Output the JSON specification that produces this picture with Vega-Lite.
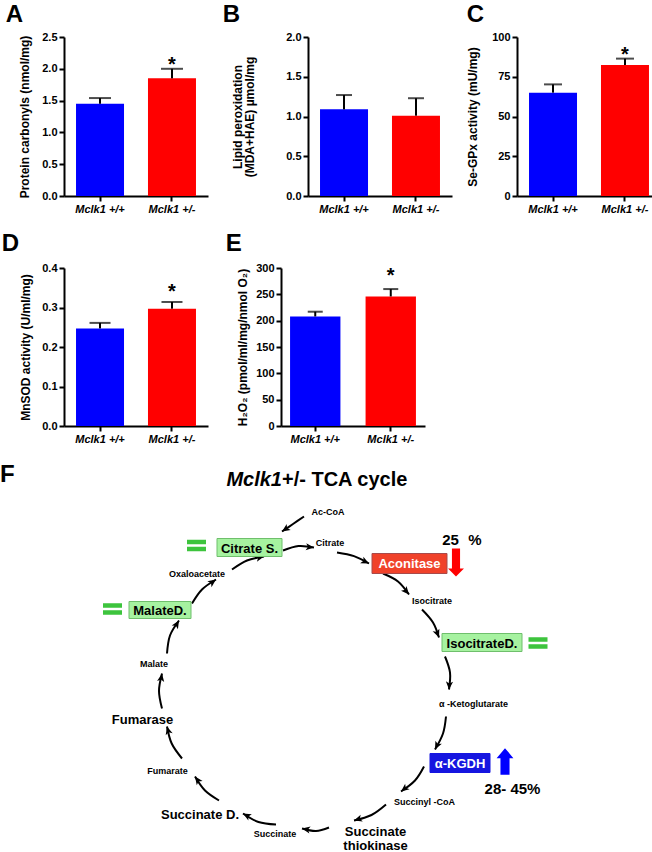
{
  "$schema": "https://vega.github.io/schema/vega-lite/v6.json",
  "background": "white",
  "padding": {"left": 0, "top": 3, "right": 0, "bottom": 0},
  "config": {
    "view": {"stroke": null},
    "font": "Liberation Sans",
    "axis": {"domainColor": "black", "domainWidth": 2, "tickColor": "black", "tickWidth": 2, "tickSize": 5, "labelFont": "Liberation Sans", "labelFontWeight": "bold", "labelFontSize": 11, "labelColor": "black", "labelPadding": 2, "labelOverlap": false, "labelBound": false, "titleFont": "Liberation Sans", "titleFontWeight": "bold", "titleFontSize": 12, "titleColor": "black", "grid": false},
    "title": {"font": "Liberation Sans", "fontSize": 24, "fontWeight": "bold", "anchor": "start", "frame": "bounds", "color": "black", "offset": 6}
  },
  "spacing": 18,
  "align": "none",
  "resolve": {"scale": {"color": "independent", "stroke": "independent"}},
  "vconcat": [
    {
      "hconcat": [
        {
          "title": {"text": "A", "dx": -13, "offset": 4},
          "width": 144, "height": 159,
          "data": {"values": [{"g": "Mclk1 +/+", "v": 1.45, "e": 1.54, "s": ""}, {"g": "Mclk1 +/-", "v": 1.85, "e": 2.0, "s": "*"}]},
          "encoding": {"x": {"field": "g", "type": "nominal", "sort": null, "scale": {"paddingInner": 0.333, "paddingOuter": 0.167}, "axis": {"title": null, "labelAngle": 0, "labelFontStyle": "italic"}}},
          "layer": [
            {"mark": {"type": "bar"}, "encoding": {"y": {"field": "v", "type": "quantitative", "scale": {"domain": [0, 2.5], "nice": false}, "axis": {"values": [0, 0.5, 1, 1.5, 2, 2.5], "format": ".1f", "labelOverlap": false, "title": "Protein carbonyls (nmol/mg)", "titlePadding": 10}}, "color": {"field": "g", "type": "nominal", "sort": null, "scale": {"domain": ["Mclk1 +/+", "Mclk1 +/-"], "range": ["#0000ff", "#ff0000"]}, "legend": null}}},
            {"mark": {"type": "rule", "color": "black", "strokeWidth": 2}, "encoding": {"y": {"field": "v", "type": "quantitative", "axis": {"values": [0, 0.5, 1, 1.5, 2, 2.5], "format": ".1f", "labelOverlap": false, "title": "Protein carbonyls (nmol/mg)", "titlePadding": 10}}, "y2": {"field": "e"}}},
            {"mark": {"type": "tick", "color": "black", "thickness": 2, "size": 22}, "encoding": {"y": {"field": "e", "type": "quantitative", "axis": {"values": [0, 0.5, 1, 1.5, 2, 2.5], "format": ".1f", "labelOverlap": false, "title": "Protein carbonyls (nmol/mg)", "titlePadding": 10}}}},
            {"mark": {"type": "text", "fontSize": 20, "fontWeight": "bold", "baseline": "alphabetic", "dy": 2}, "encoding": {"y": {"field": "e", "type": "quantitative", "axis": {"values": [0, 0.5, 1, 1.5, 2, 2.5], "format": ".1f", "labelOverlap": false, "title": "Protein carbonyls (nmol/mg)", "titlePadding": 10}}, "text": {"field": "s"}}}
          ]
        },
        {
          "title": {"text": "B", "dx": -9, "offset": 4},
          "width": 144, "height": 159,
          "data": {"values": [{"g": "Mclk1 +/+", "v": 1.09, "e": 1.27, "s": ""}, {"g": "Mclk1 +/-", "v": 1.01, "e": 1.23, "s": ""}]},
          "encoding": {"x": {"field": "g", "type": "nominal", "sort": null, "scale": {"paddingInner": 0.333, "paddingOuter": 0.167}, "axis": {"title": null, "labelAngle": 0, "labelFontStyle": "italic"}}},
          "layer": [
            {"mark": {"type": "bar"}, "encoding": {"y": {"field": "v", "type": "quantitative", "scale": {"domain": [0, 2], "nice": false}, "axis": {"values": [0, 0.5, 1, 1.5, 2], "format": ".1f", "labelOverlap": false, "title": ["Lipid peroxidation", "(MDA+HAE)  µmol/mg"], "titlePadding": 29, "titleLineHeight": 12}}, "color": {"field": "g", "type": "nominal", "sort": null, "scale": {"domain": ["Mclk1 +/+", "Mclk1 +/-"], "range": ["#0000ff", "#ff0000"]}, "legend": null}}},
            {"mark": {"type": "rule", "color": "black", "strokeWidth": 2}, "encoding": {"y": {"field": "v", "type": "quantitative", "axis": {"values": [0, 0.5, 1, 1.5, 2], "format": ".1f", "labelOverlap": false, "title": ["Lipid peroxidation", "(MDA+HAE)  µmol/mg"], "titlePadding": 29, "titleLineHeight": 12}}, "y2": {"field": "e"}}},
            {"mark": {"type": "tick", "color": "black", "thickness": 2, "size": 16}, "encoding": {"y": {"field": "e", "type": "quantitative", "axis": {"values": [0, 0.5, 1, 1.5, 2], "format": ".1f", "labelOverlap": false, "title": ["Lipid peroxidation", "(MDA+HAE)  µmol/mg"], "titlePadding": 29, "titleLineHeight": 12}}}}
          ]
        },
        {
          "title": {"text": "C", "dx": 0, "offset": 4},
          "width": 144, "height": 159,
          "data": {"values": [{"g": "Mclk1 +/+", "v": 65.0, "e": 70.2, "s": ""}, {"g": "Mclk1 +/-", "v": 82.4, "e": 86.4, "s": "*"}]},
          "encoding": {"x": {"field": "g", "type": "nominal", "sort": null, "scale": {"paddingInner": 0.333, "paddingOuter": 0.167}, "axis": {"title": null, "labelAngle": 0, "labelFontStyle": "italic"}}},
          "layer": [
            {"mark": {"type": "bar"}, "encoding": {"y": {"field": "v", "type": "quantitative", "scale": {"domain": [0, 100], "nice": false}, "axis": {"values": [0, 25, 50, 75, 100], "labelOverlap": false, "title": "Se-GPx activity (mU/mg)", "titlePadding": 12}}, "color": {"field": "g", "type": "nominal", "sort": null, "scale": {"domain": ["Mclk1 +/+", "Mclk1 +/-"], "range": ["#0000ff", "#ff0000"]}, "legend": null}}},
            {"mark": {"type": "rule", "color": "black", "strokeWidth": 2}, "encoding": {"y": {"field": "v", "type": "quantitative", "axis": {"values": [0, 25, 50, 75, 100], "labelOverlap": false, "title": "Se-GPx activity (mU/mg)", "titlePadding": 12}}, "y2": {"field": "e"}}},
            {"mark": {"type": "tick", "color": "black", "thickness": 2, "size": 18}, "encoding": {"y": {"field": "e", "type": "quantitative", "axis": {"values": [0, 25, 50, 75, 100], "labelOverlap": false, "title": "Se-GPx activity (mU/mg)", "titlePadding": 12}}}},
            {"mark": {"type": "text", "fontSize": 20, "fontWeight": "bold", "baseline": "alphabetic", "dy": 2}, "encoding": {"y": {"field": "e", "type": "quantitative", "axis": {"values": [0, 25, 50, 75, 100], "labelOverlap": false, "title": "Se-GPx activity (mU/mg)", "titlePadding": 12}}, "text": {"field": "s"}}}
          ]
        }
      ],
      "spacing": 14,
      "align": "none",
      "resolve": {"scale": {"color": "independent"}}
    },
    {
      "hconcat": [
        {
          "title": {"text": "D", "dx": -18},
          "width": 144, "height": 158,
          "data": {"values": [{"g": "Mclk1 +/+", "v": 0.247, "e": 0.261, "s": ""}, {"g": "Mclk1 +/-", "v": 0.297, "e": 0.314, "s": "*"}]},
          "encoding": {"x": {"field": "g", "type": "nominal", "sort": null, "scale": {"paddingInner": 0.333, "paddingOuter": 0.167}, "axis": {"title": null, "labelAngle": 0, "labelFontStyle": "italic"}}},
          "layer": [
            {"mark": {"type": "bar"}, "encoding": {"y": {"field": "v", "type": "quantitative", "scale": {"domain": [0, 0.4], "nice": false}, "axis": {"values": [0, 0.1, 0.2, 0.3, 0.4], "format": ".1f", "labelOverlap": false, "title": "MnSOD activity (U/ml/mg)", "titlePadding": 9}}, "color": {"field": "g", "type": "nominal", "sort": null, "scale": {"domain": ["Mclk1 +/+", "Mclk1 +/-"], "range": ["#0000ff", "#ff0000"]}, "legend": null}}},
            {"mark": {"type": "rule", "color": "black", "strokeWidth": 2}, "encoding": {"y": {"field": "v", "type": "quantitative", "axis": {"values": [0, 0.1, 0.2, 0.3, 0.4], "format": ".1f", "labelOverlap": false, "title": "MnSOD activity (U/ml/mg)", "titlePadding": 9}}, "y2": {"field": "e"}}},
            {"mark": {"type": "tick", "color": "black", "thickness": 2, "size": 21}, "encoding": {"y": {"field": "e", "type": "quantitative", "axis": {"values": [0, 0.1, 0.2, 0.3, 0.4], "format": ".1f", "labelOverlap": false, "title": "MnSOD activity (U/ml/mg)", "titlePadding": 9}}}},
            {"mark": {"type": "text", "fontSize": 20, "fontWeight": "bold", "baseline": "alphabetic", "dy": -4}, "encoding": {"y": {"field": "e", "type": "quantitative", "axis": {"values": [0, 0.1, 0.2, 0.3, 0.4], "format": ".1f", "labelOverlap": false, "title": "MnSOD activity (U/ml/mg)", "titlePadding": 9}}, "text": {"field": "s"}}}
          ]
        },
        {
          "title": {"text": "E", "dx": -11},
          "width": 144, "height": 158,
          "data": {"values": [{"g": "Mclk1 +/+", "v": 208, "e": 217, "s": ""}, {"g": "Mclk1 +/-", "v": 246, "e": 260, "s": "*"}]},
          "encoding": {"x": {"field": "g", "type": "nominal", "sort": null, "scale": {"paddingInner": 0.333, "paddingOuter": 0.12}, "axis": {"title": null, "labelAngle": 0, "labelFontStyle": "italic"}}},
          "layer": [
            {"mark": {"type": "bar"}, "encoding": {"y": {"field": "v", "type": "quantitative", "scale": {"domain": [0, 300], "nice": false}, "axis": {"values": [0, 50, 100, 150, 200, 250, 300], "labelOverlap": false, "title": "H₂O₂ (pmol/ml/mg/nmol O₂)", "titlePadding": 6}}, "color": {"field": "g", "type": "nominal", "sort": null, "scale": {"domain": ["Mclk1 +/+", "Mclk1 +/-"], "range": ["#0000ff", "#ff0000"]}, "legend": null}}},
            {"mark": {"type": "rule", "color": "black", "strokeWidth": 2}, "encoding": {"y": {"field": "v", "type": "quantitative", "axis": {"values": [0, 50, 100, 150, 200, 250, 300], "labelOverlap": false, "title": "H₂O₂ (pmol/ml/mg/nmol O₂)", "titlePadding": 6}}, "y2": {"field": "e"}}},
            {"mark": {"type": "tick", "color": "black", "thickness": 2, "size": 15}, "encoding": {"y": {"field": "e", "type": "quantitative", "axis": {"values": [0, 50, 100, 150, 200, 250, 300], "labelOverlap": false, "title": "H₂O₂ (pmol/ml/mg/nmol O₂)", "titlePadding": 6}}}},
            {"mark": {"type": "text", "fontSize": 20, "fontWeight": "bold", "baseline": "alphabetic", "dy": -7}, "encoding": {"y": {"field": "e", "type": "quantitative", "axis": {"values": [0, 50, 100, 150, 200, 250, 300], "labelOverlap": false, "title": "H₂O₂ (pmol/ml/mg/nmol O₂)", "titlePadding": 6}}, "text": {"field": "s"}}}
          ]
        }
      ],
      "spacing": 17,
      "align": "none",
      "resolve": {"scale": {"color": "independent"}}
    },
    {
      "width": 587, "height": 378.5,
      "encoding": {
        "x": {"field": "x", "type": "quantitative", "scale": {"domain": [65, 652], "nice": false, "zero": false}, "axis": null},
        "y": {"field": "y", "type": "quantitative", "scale": {"domain": [473.5, 852], "nice": false, "zero": false, "reverse": true}, "axis": null}
      },
      "layer": [
        {
          "data": {"values": [
            {"id": 1, "o": 0, "x": 305, "y": 515}, {"id": 1, "o": 1, "x": 294, "y": 522.5}, {"id": 1, "o": 2, "x": 283, "y": 530},
            {"id": 2, "o": 0, "x": 284, "y": 549}, {"id": 2, "o": 1, "x": 299.5, "y": 544.5}, {"id": 2, "o": 2, "x": 315, "y": 546},
            {"id": 3, "o": 0, "x": 338, "y": 551}, {"id": 3, "o": 1, "x": 355, "y": 554.6}, {"id": 3, "o": 2, "x": 370, "y": 562},
            {"id": 4, "o": 0, "x": 384, "y": 572}, {"id": 4, "o": 1, "x": 399, "y": 580}, {"id": 4, "o": 2, "x": 410, "y": 593},
            {"id": 5, "o": 0, "x": 423, "y": 608}, {"id": 5, "o": 1, "x": 434, "y": 621}, {"id": 5, "o": 2, "x": 440, "y": 636},
            {"id": 6, "o": 0, "x": 446, "y": 655}, {"id": 6, "o": 1, "x": 451, "y": 671}, {"id": 6, "o": 2, "x": 450, "y": 688},
            {"id": 7, "o": 0, "x": 447, "y": 715}, {"id": 7, "o": 1, "x": 444, "y": 732}, {"id": 7, "o": 2, "x": 436, "y": 748},
            {"id": 8, "o": 0, "x": 425, "y": 765}, {"id": 8, "o": 1, "x": 416, "y": 779}, {"id": 8, "o": 2, "x": 402, "y": 790},
            {"id": 9, "o": 0, "x": 387, "y": 803}, {"id": 9, "o": 1, "x": 372.5, "y": 813.5}, {"id": 9, "o": 2, "x": 355, "y": 819},
            {"id": 10, "o": 0, "x": 330, "y": 826}, {"id": 10, "o": 1, "x": 317, "y": 829.5}, {"id": 10, "o": 2, "x": 303, "y": 827},
            {"id": 11, "o": 0, "x": 277, "y": 823}, {"id": 11, "o": 1, "x": 259.5, "y": 820.5}, {"id": 11, "o": 2, "x": 244, "y": 812},
            {"id": 12, "o": 0, "x": 220, "y": 799}, {"id": 12, "o": 1, "x": 206, "y": 789}, {"id": 12, "o": 2, "x": 196, "y": 775},
            {"id": 13, "o": 0, "x": 183, "y": 757}, {"id": 13, "o": 1, "x": 172.7, "y": 742}, {"id": 13, "o": 2, "x": 168, "y": 725},
            {"id": 14, "o": 0, "x": 163, "y": 707}, {"id": 14, "o": 1, "x": 160, "y": 689.5}, {"id": 14, "o": 2, "x": 163, "y": 672},
            {"id": 15, "o": 0, "x": 168, "y": 652}, {"id": 15, "o": 1, "x": 171, "y": 634}, {"id": 15, "o": 2, "x": 180, "y": 619},
            {"id": 16, "o": 0, "x": 193, "y": 602}, {"id": 16, "o": 1, "x": 203, "y": 588}, {"id": 16, "o": 2, "x": 217, "y": 578},
            {"id": 17, "o": 0, "x": 233, "y": 568}, {"id": 17, "o": 1, "x": 248, "y": 559}, {"id": 17, "o": 2, "x": 265, "y": 555}
          ]},
          "mark": {"type": "line", "interpolate": "cardinal", "color": "black", "strokeWidth": 2},
          "encoding": {"detail": {"field": "id", "type": "nominal"}, "order": {"field": "o", "type": "quantitative"}}
        },
        {
          "data": {"values": [
            {"x": 283, "y": 530, "a": 235.7}, {"x": 315, "y": 546, "a": 95.5}, {"x": 370, "y": 562, "a": 116.3}, {"x": 410, "y": 593, "a": 139.8},
            {"x": 440, "y": 636, "a": 158.2}, {"x": 450, "y": 688, "a": 183.4}, {"x": 436, "y": 748, "a": 206.6}, {"x": 402, "y": 790, "a": 231.8},
            {"x": 355, "y": 819, "a": 252.6}, {"x": 303, "y": 827, "a": 280.1}, {"x": 244, "y": 812, "a": 298.7}, {"x": 196, "y": 775, "a": 324.5},
            {"x": 168, "y": 725, "a": 344.5}, {"x": 163, "y": 672, "a": 9.7}, {"x": 180, "y": 619, "a": 31}, {"x": 217, "y": 578, "a": 54.5},
            {"x": 265, "y": 555, "a": 76.8}
          ]},
          "mark": {"type": "point", "shape": "M0,0L0.8,1.8L0,1.35L-0.8,1.8Z", "filled": true, "color": "black", "size": 81, "opacity": 1},
          "encoding": {"angle": {"field": "a", "type": "quantitative", "scale": null}}
        },
        {
          "data": {"values": [
            {"t": "Citrate S.", "k": "g", "x": 218, "x2": 283, "y": 537, "y2": 555},
            {"t": "Aconitase", "k": "r", "x": 373, "x2": 448, "y": 552, "y2": 572},
            {"t": "IsocitrateD.", "k": "g", "x": 443, "x2": 523, "y": 632, "y2": 650},
            {"t": "α-KGDH", "k": "b", "x": 431, "x2": 491, "y": 752, "y2": 771},
            {"t": "MalateD.", "k": "g", "x": 130, "x2": 192, "y": 600, "y2": 617}
          ]},
          "mark": {"type": "rect", "strokeWidth": 1},
          "encoding": {
            "x2": {"field": "x2"}, "y2": {"field": "y2"},
            "color": {"field": "k", "type": "nominal", "scale": {"domain": ["g", "r", "b"], "range": ["#a6f2a0", "#f0422a", "#1616e0"]}, "legend": null},
            "stroke": {"field": "k", "type": "nominal", "scale": {"domain": ["g", "r", "b"], "range": ["#6fbf6c", "#a84a4a", "#1616e0"]}, "legend": null}
          }
        },
        {
          "data": {"values": [
            {"t": "Citrate S.", "x": 250.5, "y": 547},
            {"t": "IsocitrateD.", "x": 483, "y": 642},
            {"t": "MalateD.", "x": 161, "y": 609}
          ]},
          "mark": {"type": "text", "fontSize": 13, "fontWeight": "bold", "baseline": "middle", "align": "center", "color": "black"},
          "encoding": {"text": {"field": "t"}}
        },
        {
          "data": {"values": [
            {"t": "Aconitase", "x": 410.5, "y": 562.5},
            {"t": "α-KGDH", "x": 461, "y": 762.5}
          ]},
          "mark": {"type": "text", "fontSize": 13, "fontWeight": "bold", "baseline": "middle", "align": "center", "color": "white"},
          "encoding": {"text": {"field": "t"}}
        },
        {
          "data": {"values": [
            {"t": "Ac-CoA", "x": 329, "y": 510},
            {"t": "Citrate", "x": 331, "y": 541},
            {"t": "Isocitrate", "x": 433, "y": 599},
            {"t": "α -Ketoglutarate", "x": 474.5, "y": 702},
            {"t": "Succinyl -CoA", "x": 425.5, "y": 800},
            {"t": "Succinate", "x": 276, "y": 832},
            {"t": "Fumarate", "x": 168.5, "y": 769},
            {"t": "Malate", "x": 155, "y": 662},
            {"t": "Oxaloacetate", "x": 198, "y": 572}
          ]},
          "mark": {"type": "text", "fontSize": 9, "fontWeight": "bold", "baseline": "middle", "align": "center", "color": "black"},
          "encoding": {"text": {"field": "t"}}
        },
        {
          "data": {"values": [
            {"t": "Fumarase", "x": 143.5, "y": 718},
            {"t": "Succinate D.", "x": 201, "y": 813},
            {"t": "Succinate", "x": 376.5, "y": 830},
            {"t": "thiokinase", "x": 376.5, "y": 844}
          ]},
          "mark": {"type": "text", "fontSize": 13, "fontWeight": "bold", "baseline": "middle", "align": "center", "color": "black"},
          "encoding": {"text": {"field": "t"}}
        },
        {
          "data": {"values": [{"x": 197.5, "y": 544}, {"x": 539, "y": 641.5}, {"x": 113.5, "y": 607.5}]},
          "mark": {"type": "point", "shape": "M-1,-0.6H1V-0.12H-1Z M-1,0.12H1V0.6H-1Z", "filled": true, "color": "#3dc43d", "size": 361, "opacity": 1}
        },
        {
          "data": {"values": [{"x": 457, "y": 561}]},
          "mark": {"type": "point", "shape": "M-0.29,-1H0.29V0.43H0.57L0,1L-0.57,0.43H-0.29Z", "filled": true, "color": "#ff0000", "size": 784, "opacity": 1}
        },
        {
          "data": {"values": [{"x": 506, "y": 760}]},
          "mark": {"type": "point", "shape": "M-0.34,1V-0.25H-0.63L0,-1L0.63,-0.25H0.34V1Z", "filled": true, "color": "#0000ff", "size": 711, "opacity": 1}
        },
        {
          "data": {"values": [{"t": "25", "x": 451.5, "y": 538}, {"t": "%", "x": 476, "y": 538}, {"t": "28- 45%", "x": 513.5, "y": 787}]},
          "mark": {"type": "text", "fontSize": 15, "fontWeight": "bold", "baseline": "middle", "align": "center", "color": "black"},
          "encoding": {"text": {"field": "t"}}
        },
        {
          "data": {"values": [{"t": "Mclk1", "x": 283, "y": 478}]},
          "mark": {"type": "text", "fontSize": 20, "fontWeight": "bold", "fontStyle": "italic", "baseline": "middle", "align": "right", "color": "black"},
          "encoding": {"text": {"field": "t"}}
        },
        {
          "data": {"values": [{"t": "+/- TCA cycle", "x": 283, "y": 478}]},
          "mark": {"type": "text", "fontSize": 20, "fontWeight": "bold", "baseline": "middle", "align": "left", "color": "black"},
          "encoding": {"text": {"field": "t"}}
        },
        {
          "data": {"values": [{"t": "F", "x": 1, "y": 473}]},
          "mark": {"type": "text", "fontSize": 24, "fontWeight": "bold", "baseline": "middle", "align": "left", "color": "black"},
          "encoding": {"text": {"field": "t"}}
        }
      ]
    }
  ]
}
